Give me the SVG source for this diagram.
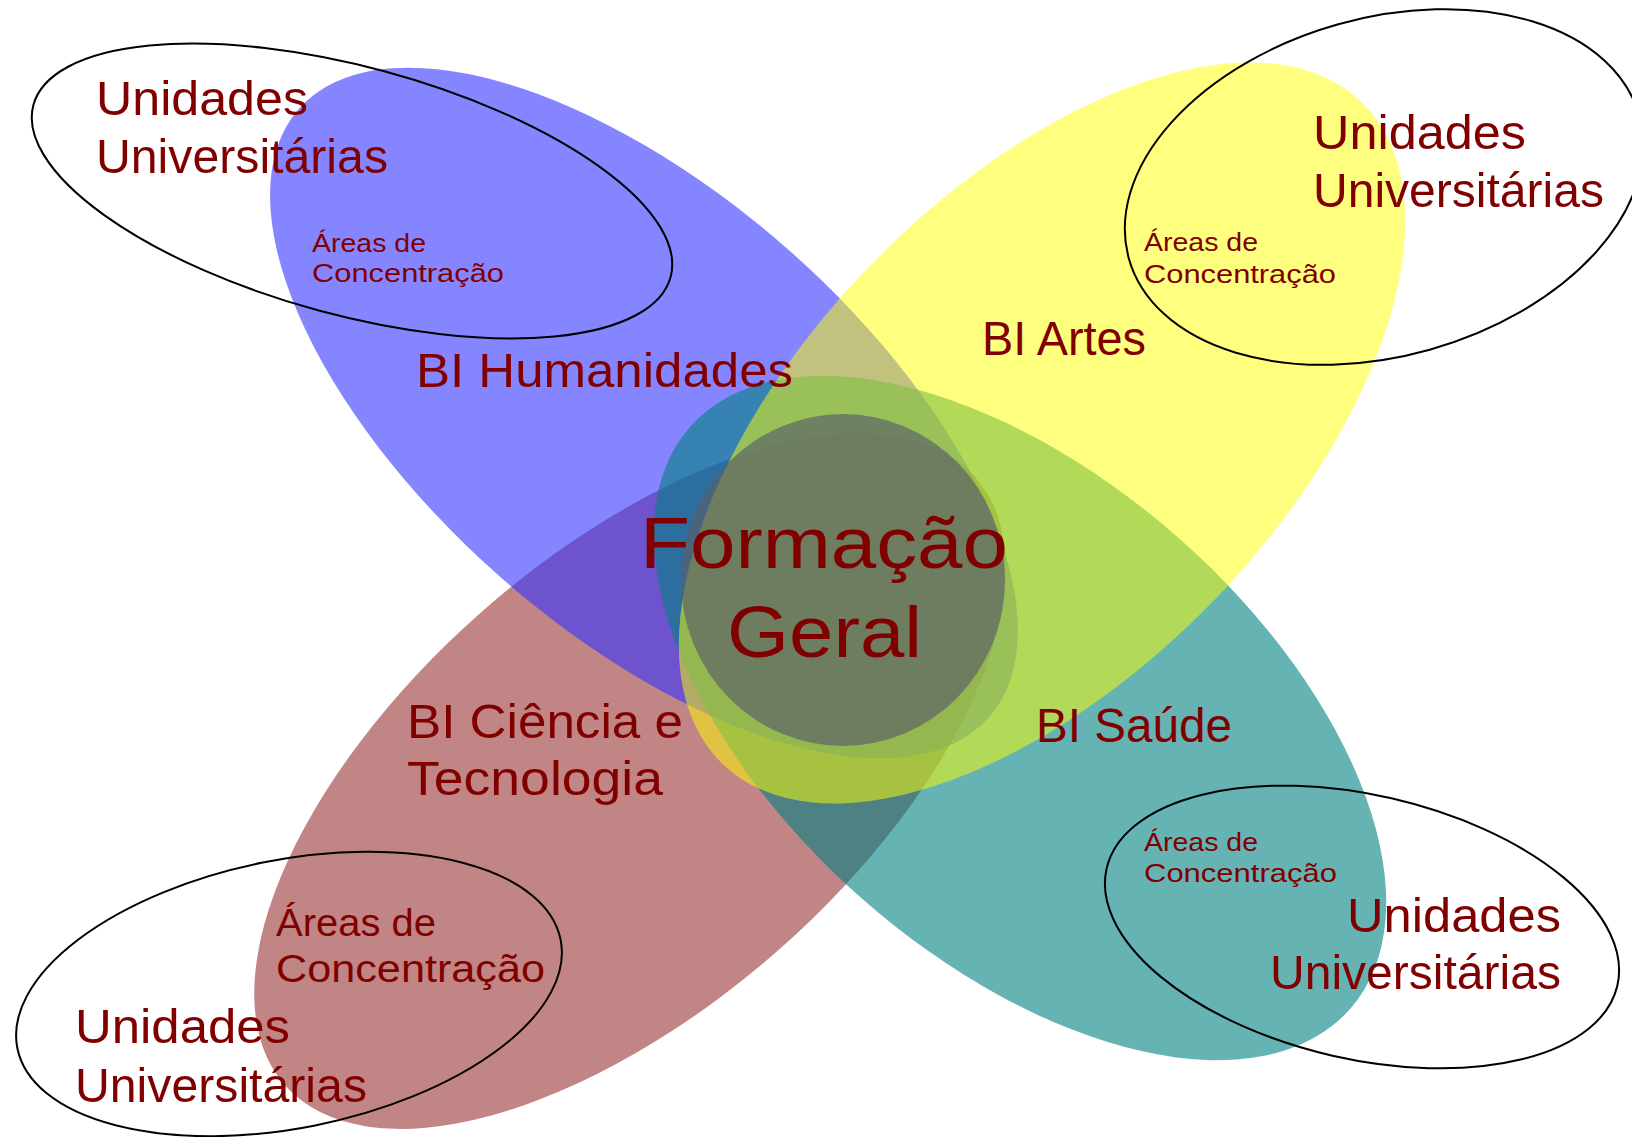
<svg xmlns="http://www.w3.org/2000/svg" width="1632" height="1137" viewBox="0 0 1632 1137">
<style>
.t{font-family:"Liberation Sans",Arial,sans-serif;fill:#800000}
.l{font-size:48px}
.s{font-size:26px}
.m{font-size:38px}
.h{font-size:72px}
.ring{fill:none;stroke:#000;stroke-width:2}
</style>
<rect width="1632" height="1137" fill="#fff"/>
<g id="petals">
<g id="petal-ciencia"><ellipse cx="630" cy="781" rx="460" ry="225" fill="#993333" fill-opacity="0.6" transform="rotate(-41.4 630 781)"/></g>
<g id="petal-humanidades"><ellipse cx="644" cy="413" rx="460" ry="218" fill="#3333ff" fill-opacity="0.6" transform="rotate(41.4 644 413)"/></g>
<g id="petal-saude"><ellipse cx="1020" cy="718" rx="440" ry="240" fill="#008080" fill-opacity="0.6" transform="rotate(41.4 1020 718)"/></g>
<g id="petal-artes"><ellipse cx="1042" cy="433" rx="460" ry="240" fill="#ffff00" fill-opacity="0.5" transform="rotate(-46 1042 433)"/></g>
<g id="formacao-geral"><ellipse cx="843" cy="580" rx="162" ry="166" fill="#5a6068" fill-opacity="0.66"/></g>
</g>
<g id="rings">
<ellipse id="ring-tl" class="ring" cx="352" cy="191" rx="330" ry="124" transform="rotate(15.1 352 191)"/>
<ellipse id="ring-tr" class="ring" cx="1384" cy="187" rx="265" ry="169" transform="rotate(-15.7 1384 187)"/>
<ellipse id="ring-br" class="ring" cx="1362" cy="927" rx="262" ry="132" transform="rotate(12.9 1362 927)"/>
<ellipse id="ring-bl" class="ring" cx="289" cy="994" rx="277" ry="134" transform="rotate(-11.3 289 994)"/>
</g>
<g id="labels" class="t">
<g id="label-tl">
<text class="l" x="96" y="115" textLength="212" lengthAdjust="spacingAndGlyphs">Unidades</text>
<text class="l" x="96" y="173" textLength="292" lengthAdjust="spacingAndGlyphs">Universitárias</text>
<text class="s" x="312" y="252" textLength="114" lengthAdjust="spacingAndGlyphs">Áreas de</text>
<text class="s" x="312" y="282" textLength="192" lengthAdjust="spacingAndGlyphs">Concentração</text>
</g>
<g id="label-tr">
<text class="l" x="1313" y="149" textLength="213" lengthAdjust="spacingAndGlyphs">Unidades</text>
<text class="l" x="1313" y="207" textLength="291" lengthAdjust="spacingAndGlyphs">Universitárias</text>
<text class="s" x="1144" y="251" textLength="114" lengthAdjust="spacingAndGlyphs">Áreas de</text>
<text class="s" x="1144" y="283" textLength="192" lengthAdjust="spacingAndGlyphs">Concentração</text>
</g>
<g id="label-br">
<text class="s" x="1144" y="851" textLength="114" lengthAdjust="spacingAndGlyphs">Áreas de</text>
<text class="s" x="1144" y="882" textLength="193" lengthAdjust="spacingAndGlyphs">Concentração</text>
<text class="l" x="1347" y="932" textLength="214" lengthAdjust="spacingAndGlyphs">Unidades</text>
<text class="l" x="1270" y="989" textLength="291" lengthAdjust="spacingAndGlyphs">Universitárias</text>
</g>
<g id="label-bl">
<text class="m" x="276" y="936" textLength="160" lengthAdjust="spacingAndGlyphs">Áreas de</text>
<text class="m" x="276" y="982" textLength="269" lengthAdjust="spacingAndGlyphs">Concentração</text>
<text class="l" x="75" y="1043" textLength="215" lengthAdjust="spacingAndGlyphs">Unidades</text>
<text class="l" x="75" y="1102" textLength="292" lengthAdjust="spacingAndGlyphs">Universitárias</text>
</g>
<text id="label-humanidades" class="l" x="416" y="387" textLength="377" lengthAdjust="spacingAndGlyphs">BI Humanidades</text>
<text id="label-artes" class="l" x="982" y="355" textLength="164" lengthAdjust="spacingAndGlyphs">BI Artes</text>
<g id="label-ciencia">
<text class="l" x="407" y="738" textLength="276" lengthAdjust="spacingAndGlyphs">BI Ciência e</text>
<text class="l" x="407" y="795" textLength="256" lengthAdjust="spacingAndGlyphs">Tecnologia</text>
</g>
<text id="label-saude" class="l" x="1036" y="742" textLength="196" lengthAdjust="spacingAndGlyphs">BI Saúde</text>
<g id="label-formacao">
<text class="h" x="640" y="568" textLength="368" lengthAdjust="spacingAndGlyphs">Formação</text>
<text class="h" x="727" y="657" textLength="195" lengthAdjust="spacingAndGlyphs">Geral</text>
</g>
</g>
</svg>
